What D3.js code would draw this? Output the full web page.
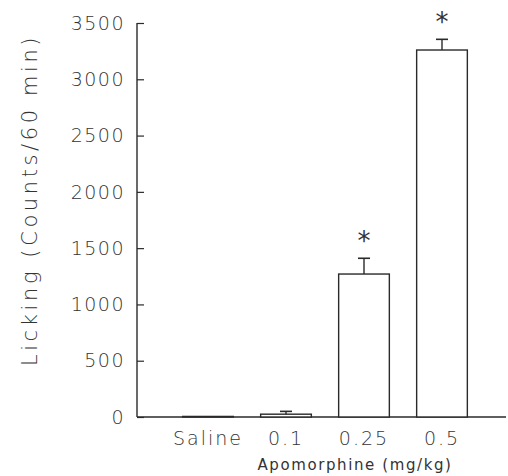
<!DOCTYPE html>
<html>
<head>
<meta charset="utf-8">
<script src="https://cdn.jsdelivr.net/npm/d3@7"></script>
<style>
  body { margin: 0; background: #fff; }
  svg text { font-family: "DejaVu Sans", sans-serif; fill: #333; }
</style>
</head>
<body>
<div id="chart"></div>
<script>
// Data
const doses = ["Saline", "0.1", "0.25", "0.5"];
const means = [5, 25, 1270, 3260];
const sems = [0, 25, 140, 95];
const significant = [false, false, true, true];
const yTicks = [0, 500, 1000, 1500, 2000, 2500, 3000, 3500];

const width = 508, height = 476;

const svg = d3.select("#chart")
    .append("svg")
    .attr("width", width)
    .attr("height", height);

const x = d3.scaleBand()
    .domain(doses)
    .range([169, 481])
    .paddingInner(0.35)
    .paddingOuter(0.175);

const y = d3.scaleLinear()
    .domain([0, 3500])
    .range([417, 23]);

const ink = "#2a2a2a";

// y axis, ticks pointing inward
const yAxis = svg.append("g")
    .attr("transform", "translate(137,0)")
    .call(d3.axisRight(y).tickValues(yTicks).tickSize(7).tickFormat(""));
yAxis.select(".domain").remove();
yAxis.selectAll("line").attr("stroke", ink).attr("stroke-width", 1.2);

svg.append("line")
    .attr("x1", 137).attr("x2", 137)
    .attr("y1", y(3500)).attr("y2", y(0))
    .attr("stroke", ink).attr("stroke-width", 1.4);

// tick labels
svg.selectAll(".ylab")
    .data(yTicks)
    .enter()
    .append("text")
    .attr("class", "ylab")
    .attr("x", 125)
    .attr("y", d => y(d))
    .attr("dy", "0.35em")
    .attr("text-anchor", "end")
    .style("font-size", "19px")
    .style("font-weight", 300)
    .style("letter-spacing", "1.5px")
    .text(d => d);

// baseline
svg.append("line")
    .attr("x1", 137).attr("x2", 506)
    .attr("y1", y(0)).attr("y2", y(0))
    .attr("stroke", ink).attr("stroke-width", 1.4);

// bars
svg.selectAll(".bar")
    .data(doses)
    .enter()
    .append("rect")
    .attr("class", "bar")
    .attr("x", d => x(d))
    .attr("y", (d, i) => y(means[i]))
    .attr("width", x.bandwidth())
    .attr("height", (d, i) => y(0) - y(means[i]))
    .attr("fill", "#fff")
    .attr("stroke", ink)
    .attr("stroke-width", 1.4);

// error bars
const errs = svg.selectAll(".err")
    .data(doses.filter((d, i) => sems[i] > 0))
    .enter()
    .append("g")
    .attr("class", "err");

errs.append("line")
    .attr("x1", d => x(d) + x.bandwidth() / 2)
    .attr("x2", d => x(d) + x.bandwidth() / 2)
    .attr("y1", d => y(means[doses.indexOf(d)]))
    .attr("y2", d => { const i = doses.indexOf(d); return y(means[i] + sems[i]); })
    .attr("stroke", ink).attr("stroke-width", 1.4);

errs.append("line")
    .attr("x1", d => x(d) + x.bandwidth() / 2 - 6)
    .attr("x2", d => x(d) + x.bandwidth() / 2 + 6)
    .attr("y1", d => { const i = doses.indexOf(d); return y(means[i] + sems[i]); })
    .attr("y2", d => { const i = doses.indexOf(d); return y(means[i] + sems[i]); })
    .attr("stroke", ink).attr("stroke-width", 1.6);

// significance stars
svg.selectAll(".star")
    .data(doses.filter((d, i) => significant[i]))
    .enter()
    .append("text")
    .attr("class", "star")
    .attr("x", d => x(d) + x.bandwidth() / 2)
    .attr("y", d => { const i = doses.indexOf(d); return y(means[i] + sems[i]) - 8; })
    .attr("text-anchor", "middle")
    .style("font-size", "26px")
    .text("*");

// category labels
svg.selectAll(".xlab")
    .data(doses)
    .enter()
    .append("text")
    .attr("class", "xlab")
    .attr("x", d => x(d) + x.bandwidth() / 2)
    .attr("y", 445)
    .attr("text-anchor", "middle")
    .style("font-size", "19px")
    .style("font-weight", 300)
    .style("letter-spacing", "2px")
    .text(d => d);

// axis titles
svg.append("text")
    .attr("x", 355)
    .attr("y", 470)
    .attr("text-anchor", "middle")
    .style("font-size", "15px")
    .style("letter-spacing", "1.6px")
    .text("Apomorphine (mg/kg)");

svg.append("text")
    .attr("transform", "translate(37,200) rotate(-90)")
    .attr("text-anchor", "middle")
    .style("font-size", "21px")
    .style("font-weight", 300)
    .style("letter-spacing", "3.6px")
    .text("Licking (Counts/60 min)");
</script>
</body>
</html>
